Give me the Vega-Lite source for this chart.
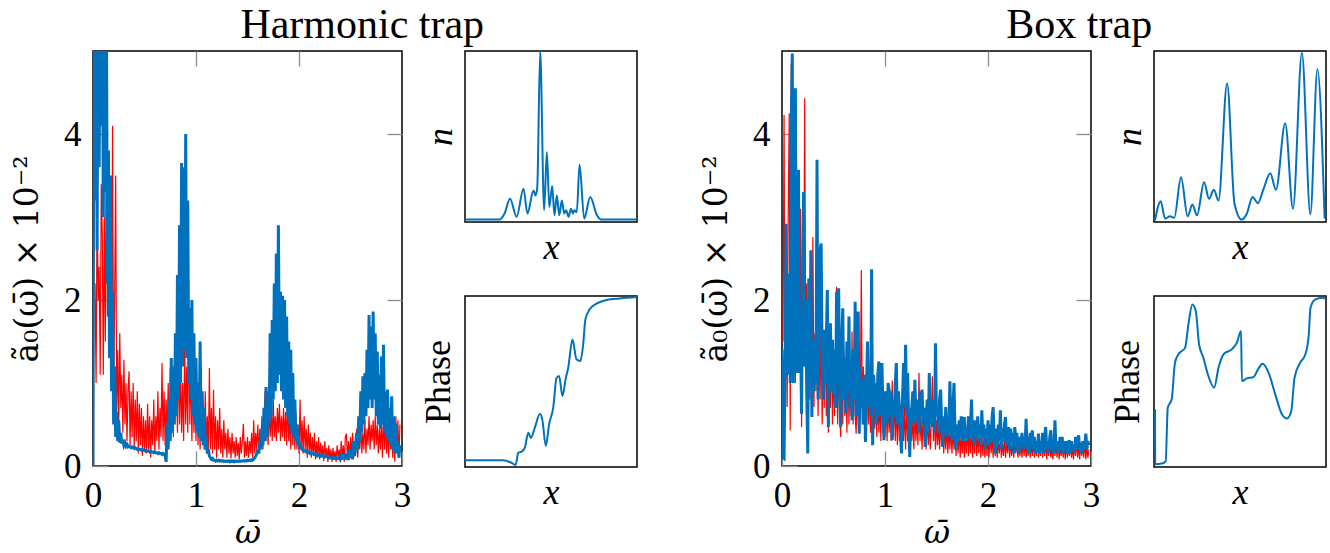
{
"$schema":"https://vega.github.io/schema/vega-lite/v6.json",
"padding":{"left":10,"top":3,"right":3,"bottom":0},
"background":"white",
"config":{
 "font":"Liberation Serif",
 "view":{"stroke":"black","strokeWidth":1.5},
 "axis":{"labelFont":"Liberation Serif","titleFont":"Liberation Serif","labelFontSize":35,"titleFontSize":36,"titleFontWeight":"normal","labelColor":"black","titleColor":"black","domain":false,"grid":false,"tickColor":"#8c8c8c","tickWidth":1.3},
 "title":{"font":"Liberation Serif","fontSize":42,"fontWeight":"normal","color":"black"}
},
"datasets":{
"hb":[{"x":0,"y":0},{"x":0.01,"y":6},{"x":0.02,"y":3.2},{"x":0.03,"y":6},{"x":0.04,"y":2.6},{"x":0.05,"y":6},{"x":0.06,"y":3.6},{"x":0.07,"y":6},{"x":0.08,"y":4.1},{"x":0.09,"y":6},{"x":0.1,"y":3.0},{"x":0.11,"y":6},{"x":0.12,"y":3.3},{"x":0.13,"y":5.6},{"x":0.14,"y":2.2},{"x":0.15,"y":3.8},{"x":0.16,"y":1.3},{"x":0.17,"y":3.5},{"x":0.18,"y":0.9},{"x":0.19,"y":2.1},{"x":0.2,"y":0.5},{"x":0.21,"y":1.2},{"x":0.22,"y":0.35},{"x":0.23,"y":0.65},{"x":0.24,"y":0.3},{"x":0.25,"y":0.55},{"x":0.26,"y":0.28},{"x":0.27,"y":0.4},{"x":0.28,"y":0.27},{"x":0.29,"y":0.32},{"x":0.3,"y":0.25},{"x":0.31,"y":0.28},{"x":0.32,"y":0.24},{"x":0.33,"y":0.26},{"x":0.34,"y":0.23},{"x":0.35,"y":0.24},{"x":0.36,"y":0.23},{"x":0.37,"y":0.22},{"x":0.38,"y":0.23},{"x":0.39,"y":0.22},{"x":0.4,"y":0.21},{"x":0.41,"y":0.22},{"x":0.42,"y":0.21},{"x":0.43,"y":0.2},{"x":0.44,"y":0.21},{"x":0.45,"y":0.2},{"x":0.46,"y":0.2},{"x":0.47,"y":0.19},{"x":0.48,"y":0.2},{"x":0.49,"y":0.19},{"x":0.5,"y":0.19},{"x":0.51,"y":0.18},{"x":0.52,"y":0.19},{"x":0.53,"y":0.18},{"x":0.54,"y":0.18},{"x":0.55,"y":0.17},{"x":0.56,"y":0.18},{"x":0.57,"y":0.17},{"x":0.58,"y":0.17},{"x":0.59,"y":0.16},{"x":0.6,"y":0.17},{"x":0.61,"y":0.16},{"x":0.62,"y":0.16},{"x":0.63,"y":0.15},{"x":0.64,"y":0.16},{"x":0.65,"y":0.15},{"x":0.66,"y":0.15},{"x":0.67,"y":0.14},{"x":0.68,"y":0.15},{"x":0.69,"y":0.14},{"x":0.7,"y":0.12},{"x":0.71,"y":0.05},{"x":0.72,"y":0.5},{"x":0.73,"y":0.2},{"x":0.74,"y":0.8},{"x":0.75,"y":0.3},{"x":0.76,"y":1.3},{"x":0.77,"y":0.4},{"x":0.78,"y":1.2},{"x":0.79,"y":0.5},{"x":0.8,"y":1.6},{"x":0.81,"y":0.6},{"x":0.82,"y":2.3},{"x":0.83,"y":0.8},{"x":0.84,"y":2.9},{"x":0.85,"y":1.0},{"x":0.86,"y":3.65},{"x":0.87,"y":1.2},{"x":0.88,"y":3.6},{"x":0.89,"y":1.4},{"x":0.9,"y":4.0},{"x":0.91,"y":1.3},{"x":0.92,"y":3.2},{"x":0.93,"y":1.0},{"x":0.94,"y":1.9},{"x":0.95,"y":0.8},{"x":0.96,"y":2.0},{"x":0.97,"y":0.6},{"x":0.98,"y":1.6},{"x":0.99,"y":0.5},{"x":1.0,"y":1.3},{"x":1.01,"y":0.4},{"x":1.02,"y":1.0},{"x":1.03,"y":0.35},{"x":1.04,"y":1.5},{"x":1.05,"y":0.3},{"x":1.06,"y":0.9},{"x":1.07,"y":0.25},{"x":1.08,"y":0.7},{"x":1.09,"y":0.2},{"x":1.1,"y":0.35},{"x":1.11,"y":0.15},{"x":1.12,"y":0.2},{"x":1.13,"y":0.12},{"x":1.14,"y":0.1},{"x":1.15,"y":0.08},{"x":1.16,"y":0.09},{"x":1.17,"y":0.07},{"x":1.18,"y":0.07},{"x":1.19,"y":0.06},{"x":1.2,"y":0.07},{"x":1.21,"y":0.06},{"x":1.22,"y":0.07},{"x":1.23,"y":0.06},{"x":1.24,"y":0.065},{"x":1.25,"y":0.06},{"x":1.26,"y":0.065},{"x":1.27,"y":0.055},{"x":1.28,"y":0.06},{"x":1.29,"y":0.055},{"x":1.3,"y":0.06},{"x":1.31,"y":0.055},{"x":1.32,"y":0.06},{"x":1.33,"y":0.05},{"x":1.34,"y":0.06},{"x":1.35,"y":0.055},{"x":1.36,"y":0.06},{"x":1.37,"y":0.05},{"x":1.38,"y":0.06},{"x":1.39,"y":0.055},{"x":1.4,"y":0.06},{"x":1.41,"y":0.055},{"x":1.42,"y":0.06},{"x":1.43,"y":0.055},{"x":1.44,"y":0.06},{"x":1.45,"y":0.06},{"x":1.46,"y":0.065},{"x":1.47,"y":0.06},{"x":1.48,"y":0.065},{"x":1.49,"y":0.06},{"x":1.5,"y":0.07},{"x":1.51,"y":0.065},{"x":1.52,"y":0.07},{"x":1.53,"y":0.065},{"x":1.54,"y":0.075},{"x":1.55,"y":0.07},{"x":1.56,"y":0.08},{"x":1.57,"y":0.1},{"x":1.58,"y":0.12},{"x":1.59,"y":0.15},{"x":1.6,"y":0.2},{"x":1.61,"y":0.15},{"x":1.62,"y":0.3},{"x":1.63,"y":0.2},{"x":1.64,"y":0.45},{"x":1.65,"y":0.25},{"x":1.66,"y":0.7},{"x":1.67,"y":0.3},{"x":1.68,"y":0.95},{"x":1.69,"y":0.35},{"x":1.7,"y":0.9},{"x":1.71,"y":0.5},{"x":1.72,"y":1.6},{"x":1.73,"y":0.6},{"x":1.74,"y":1.76},{"x":1.75,"y":0.8},{"x":1.76,"y":2.2},{"x":1.77,"y":0.9},{"x":1.78,"y":2.56},{"x":1.79,"y":1.0},{"x":1.8,"y":2.9},{"x":1.81,"y":1.1},{"x":1.82,"y":2.1},{"x":1.83,"y":0.9},{"x":1.84,"y":2.05},{"x":1.85,"y":0.8},{"x":1.86,"y":2.0},{"x":1.87,"y":0.7},{"x":1.88,"y":1.8},{"x":1.89,"y":0.6},{"x":1.9,"y":1.5},{"x":1.91,"y":0.5},{"x":1.92,"y":1.4},{"x":1.93,"y":0.4},{"x":1.94,"y":1.12},{"x":1.95,"y":0.35},{"x":1.96,"y":0.8},{"x":1.97,"y":0.3},{"x":1.98,"y":0.5},{"x":1.99,"y":0.25},{"x":2.0,"y":0.3},{"x":2.01,"y":0.22},{"x":2.02,"y":0.23},{"x":2.03,"y":0.2},{"x":2.04,"y":0.19},{"x":2.05,"y":0.18},{"x":2.06,"y":0.19},{"x":2.07,"y":0.17},{"x":2.08,"y":0.18},{"x":2.09,"y":0.16},{"x":2.1,"y":0.17},{"x":2.11,"y":0.15},{"x":2.12,"y":0.16},{"x":2.13,"y":0.15},{"x":2.14,"y":0.15},{"x":2.15,"y":0.14},{"x":2.16,"y":0.15},{"x":2.17,"y":0.13},{"x":2.18,"y":0.14},{"x":2.19,"y":0.13},{"x":2.2,"y":0.13},{"x":2.21,"y":0.12},{"x":2.22,"y":0.13},{"x":2.23,"y":0.12},{"x":2.24,"y":0.12},{"x":2.25,"y":0.11},{"x":2.26,"y":0.12},{"x":2.27,"y":0.11},{"x":2.28,"y":0.11},{"x":2.29,"y":0.1},{"x":2.3,"y":0.11},{"x":2.31,"y":0.1},{"x":2.32,"y":0.1},{"x":2.33,"y":0.09},{"x":2.34,"y":0.1},{"x":2.35,"y":0.09},{"x":2.36,"y":0.1},{"x":2.37,"y":0.09},{"x":2.38,"y":0.09},{"x":2.39,"y":0.1},{"x":2.4,"y":0.08},{"x":2.41,"y":0.12},{"x":2.42,"y":0.08},{"x":2.43,"y":0.14},{"x":2.44,"y":0.08},{"x":2.45,"y":0.15},{"x":2.46,"y":0.08},{"x":2.47,"y":0.12},{"x":2.48,"y":0.07},{"x":2.49,"y":0.2},{"x":2.5,"y":0.1},{"x":2.51,"y":0.15},{"x":2.52,"y":0.08},{"x":2.53,"y":0.3},{"x":2.54,"y":0.12},{"x":2.55,"y":0.25},{"x":2.56,"y":0.4},{"x":2.57,"y":0.2},{"x":2.58,"y":0.6},{"x":2.59,"y":0.3},{"x":2.6,"y":0.9},{"x":2.61,"y":0.4},{"x":2.62,"y":1.08},{"x":2.63,"y":0.5},{"x":2.64,"y":1.12},{"x":2.65,"y":0.6},{"x":2.66,"y":1.4},{"x":2.67,"y":0.7},{"x":2.68,"y":1.82},{"x":2.69,"y":0.8},{"x":2.7,"y":1.68},{"x":2.71,"y":0.7},{"x":2.72,"y":1.86},{"x":2.73,"y":0.8},{"x":2.74,"y":1.6},{"x":2.75,"y":0.6},{"x":2.76,"y":1.38},{"x":2.77,"y":0.5},{"x":2.78,"y":1.1},{"x":2.79,"y":0.45},{"x":2.8,"y":1.32},{"x":2.81,"y":0.5},{"x":2.82,"y":1.46},{"x":2.83,"y":0.4},{"x":2.84,"y":0.9},{"x":2.85,"y":0.35},{"x":2.86,"y":0.92},{"x":2.87,"y":0.3},{"x":2.88,"y":0.7},{"x":2.89,"y":0.25},{"x":2.9,"y":0.84},{"x":2.91,"y":0.2},{"x":2.92,"y":0.6},{"x":2.93,"y":0.15},{"x":2.94,"y":0.51},{"x":2.95,"y":0.15},{"x":2.96,"y":0.3},{"x":2.97,"y":0.1},{"x":2.98,"y":0.25}],
"hr":[{"x":0.02,"y":2.2},{"x":0.03,"y":1.0},{"x":0.04,"y":3.2},{"x":0.05,"y":2.0},{"x":0.06,"y":2.4},{"x":0.07,"y":1.1},{"x":0.08,"y":3.4},{"x":0.09,"y":2.8},{"x":0.1,"y":1.1},{"x":0.11,"y":3.0},{"x":0.12,"y":1.5},{"x":0.13,"y":4.4},{"x":0.14,"y":1.8},{"x":0.15,"y":3.0},{"x":0.16,"y":1.4},{"x":0.17,"y":2.5},{"x":0.18,"y":1.0},{"x":0.19,"y":4.1},{"x":0.2,"y":0.9},{"x":0.21,"y":2.0},{"x":0.22,"y":3.5},{"x":0.23,"y":0.6},{"x":0.24,"y":1.4},{"x":0.25,"y":0.5},{"x":0.26,"y":1.6},{"x":0.27,"y":0.7},{"x":0.28,"y":1.1},{"x":0.29,"y":0.4},{"x":0.3,"y":1.28},{"x":0.31,"y":0.5},{"x":0.32,"y":1.0},{"x":0.33,"y":0.3},{"x":0.34,"y":0.9},{"x":0.35,"y":1.14},{"x":0.36,"y":0.25},{"x":0.37,"y":0.9},{"x":0.38,"y":0.35},{"x":0.39,"y":1.0},{"x":0.4,"y":0.2},{"x":0.41,"y":0.8},{"x":0.42,"y":0.3},{"x":0.43,"y":0.9},{"x":0.44,"y":0.15},{"x":0.45,"y":0.75},{"x":0.46,"y":0.25},{"x":0.47,"y":0.7},{"x":0.48,"y":0.12},{"x":0.49,"y":0.6},{"x":0.5,"y":0.2},{"x":0.51,"y":0.55},{"x":0.52,"y":0.15},{"x":0.53,"y":0.75},{"x":0.54,"y":0.2},{"x":0.55,"y":0.6},{"x":0.56,"y":0.1},{"x":0.57,"y":0.55},{"x":0.58,"y":0.25},{"x":0.59,"y":0.8},{"x":0.6,"y":0.15},{"x":0.61,"y":0.6},{"x":0.62,"y":0.3},{"x":0.63,"y":0.9},{"x":0.64,"y":0.2},{"x":0.65,"y":0.7},{"x":0.66,"y":0.35},{"x":0.67,"y":1.24},{"x":0.68,"y":0.3},{"x":0.69,"y":0.9},{"x":0.7,"y":0.25},{"x":0.71,"y":0.8},{"x":0.72,"y":0.4},{"x":0.73,"y":1.0},{"x":0.74,"y":0.3},{"x":0.75,"y":1.18},{"x":0.76,"y":0.5},{"x":0.77,"y":1.0},{"x":0.78,"y":0.35},{"x":0.79,"y":1.3},{"x":0.8,"y":0.6},{"x":0.81,"y":1.1},{"x":0.82,"y":0.4},{"x":0.83,"y":1.4},{"x":0.84,"y":0.5},{"x":0.85,"y":1.2},{"x":0.86,"y":0.4},{"x":0.87,"y":1.0},{"x":0.88,"y":0.3},{"x":0.89,"y":1.5},{"x":0.9,"y":0.5},{"x":0.91,"y":1.2},{"x":0.92,"y":0.4},{"x":0.93,"y":1.88},{"x":0.94,"y":0.5},{"x":0.95,"y":1.3},{"x":0.96,"y":0.3},{"x":0.97,"y":1.1},{"x":0.98,"y":0.4},{"x":0.99,"y":0.9},{"x":1.0,"y":0.3},{"x":1.01,"y":1.0},{"x":1.02,"y":0.25},{"x":1.03,"y":0.8},{"x":1.04,"y":0.2},{"x":1.05,"y":1.2},{"x":1.06,"y":0.3},{"x":1.07,"y":0.7},{"x":1.08,"y":0.2},{"x":1.09,"y":0.9},{"x":1.1,"y":0.25},{"x":1.11,"y":0.6},{"x":1.12,"y":0.15},{"x":1.13,"y":1.18},{"x":1.14,"y":0.2},{"x":1.15,"y":0.7},{"x":1.16,"y":0.15},{"x":1.17,"y":0.92},{"x":1.18,"y":0.2},{"x":1.19,"y":0.6},{"x":1.2,"y":0.1},{"x":1.21,"y":0.55},{"x":1.22,"y":0.2},{"x":1.23,"y":0.7},{"x":1.24,"y":0.15},{"x":1.25,"y":0.45},{"x":1.26,"y":0.1},{"x":1.27,"y":0.55},{"x":1.28,"y":0.2},{"x":1.29,"y":0.4},{"x":1.3,"y":0.1},{"x":1.31,"y":0.45},{"x":1.32,"y":0.15},{"x":1.33,"y":0.35},{"x":1.34,"y":0.09},{"x":1.35,"y":0.4},{"x":1.36,"y":0.15},{"x":1.37,"y":0.3},{"x":1.38,"y":0.1},{"x":1.39,"y":0.35},{"x":1.4,"y":0.12},{"x":1.41,"y":0.28},{"x":1.42,"y":0.08},{"x":1.43,"y":0.35},{"x":1.44,"y":0.15},{"x":1.45,"y":0.3},{"x":1.46,"y":0.51},{"x":1.47,"y":0.1},{"x":1.48,"y":0.3},{"x":1.49,"y":0.12},{"x":1.5,"y":0.35},{"x":1.51,"y":0.1},{"x":1.52,"y":0.3},{"x":1.53,"y":0.15},{"x":1.54,"y":0.4},{"x":1.55,"y":0.1},{"x":1.56,"y":0.55},{"x":1.57,"y":0.15},{"x":1.58,"y":0.4},{"x":1.59,"y":0.2},{"x":1.6,"y":0.5},{"x":1.61,"y":0.15},{"x":1.62,"y":0.45},{"x":1.63,"y":0.25},{"x":1.64,"y":0.6},{"x":1.65,"y":0.2},{"x":1.66,"y":0.5},{"x":1.67,"y":0.9},{"x":1.68,"y":0.3},{"x":1.69,"y":0.6},{"x":1.7,"y":0.25},{"x":1.71,"y":0.7},{"x":1.72,"y":0.35},{"x":1.73,"y":0.65},{"x":1.74,"y":0.3},{"x":1.75,"y":0.8},{"x":1.76,"y":0.35},{"x":1.77,"y":0.6},{"x":1.78,"y":0.3},{"x":1.79,"y":0.7},{"x":1.8,"y":0.4},{"x":1.81,"y":0.75},{"x":1.82,"y":0.3},{"x":1.83,"y":0.6},{"x":1.84,"y":0.35},{"x":1.85,"y":0.7},{"x":1.86,"y":0.3},{"x":1.87,"y":0.65},{"x":1.88,"y":0.25},{"x":1.89,"y":0.8},{"x":1.9,"y":0.3},{"x":1.91,"y":0.6},{"x":1.92,"y":0.2},{"x":1.93,"y":0.7},{"x":1.94,"y":0.25},{"x":1.95,"y":0.55},{"x":1.96,"y":0.2},{"x":1.97,"y":0.65},{"x":1.98,"y":0.2},{"x":1.99,"y":0.5},{"x":2.0,"y":0.15},{"x":2.01,"y":0.8},{"x":2.02,"y":0.2},{"x":2.03,"y":0.55},{"x":2.04,"y":0.15},{"x":2.05,"y":0.6},{"x":2.06,"y":0.2},{"x":2.07,"y":0.45},{"x":2.08,"y":0.1},{"x":2.09,"y":0.5},{"x":2.1,"y":0.15},{"x":2.11,"y":0.4},{"x":2.12,"y":0.1},{"x":2.13,"y":0.35},{"x":2.14,"y":0.12},{"x":2.15,"y":0.4},{"x":2.16,"y":0.08},{"x":2.17,"y":0.3},{"x":2.18,"y":0.1},{"x":2.19,"y":0.35},{"x":2.2,"y":0.08},{"x":2.21,"y":0.28},{"x":2.22,"y":0.1},{"x":2.23,"y":0.25},{"x":2.24,"y":0.06},{"x":2.25,"y":0.3},{"x":2.26,"y":0.1},{"x":2.27,"y":0.22},{"x":2.28,"y":0.05},{"x":2.29,"y":0.25},{"x":2.3,"y":0.08},{"x":2.31,"y":0.2},{"x":2.32,"y":0.05},{"x":2.33,"y":0.22},{"x":2.34,"y":0.08},{"x":2.35,"y":0.18},{"x":2.36,"y":0.05},{"x":2.37,"y":0.25},{"x":2.38,"y":0.1},{"x":2.39,"y":0.2},{"x":2.4,"y":0.06},{"x":2.41,"y":0.3},{"x":2.42,"y":0.1},{"x":2.43,"y":0.25},{"x":2.44,"y":0.05},{"x":2.45,"y":0.35},{"x":2.46,"y":0.39},{"x":2.47,"y":0.1},{"x":2.48,"y":0.3},{"x":2.49,"y":0.08},{"x":2.5,"y":0.35},{"x":2.51,"y":0.12},{"x":2.52,"y":0.4},{"x":2.53,"y":0.1},{"x":2.54,"y":0.3},{"x":2.55,"y":0.15},{"x":2.56,"y":0.45},{"x":2.57,"y":0.1},{"x":2.58,"y":0.35},{"x":2.59,"y":0.2},{"x":2.6,"y":0.5},{"x":2.61,"y":0.15},{"x":2.62,"y":0.4},{"x":2.63,"y":0.2},{"x":2.64,"y":0.55},{"x":2.65,"y":0.15},{"x":2.66,"y":0.45},{"x":2.67,"y":0.25},{"x":2.68,"y":0.6},{"x":2.69,"y":0.2},{"x":2.7,"y":0.5},{"x":2.71,"y":0.3},{"x":2.72,"y":0.55},{"x":2.73,"y":0.2},{"x":2.74,"y":0.6},{"x":2.75,"y":0.25},{"x":2.76,"y":0.5},{"x":2.77,"y":0.15},{"x":2.78,"y":0.45},{"x":2.79,"y":0.2},{"x":2.8,"y":0.55},{"x":2.81,"y":0.1},{"x":2.82,"y":0.6},{"x":2.83,"y":0.2},{"x":2.84,"y":0.5},{"x":2.85,"y":0.15},{"x":2.86,"y":0.4},{"x":2.87,"y":0.1},{"x":2.88,"y":0.55},{"x":2.89,"y":0.2},{"x":2.9,"y":0.45},{"x":2.91,"y":0.1},{"x":2.92,"y":0.5},{"x":2.93,"y":0.05},{"x":2.94,"y":0.6},{"x":2.95,"y":0.15},{"x":2.96,"y":0.55},{"x":2.97,"y":0.1},{"x":2.98,"y":0.5}],
"bb":[{"x":0,"y":1.4},{"x":0.01,"y":0.1},{"x":0.02,"y":0.09},{"x":0.03,"y":1.2},{"x":0.04,"y":2.92},{"x":0.05,"y":1.1},{"x":0.06,"y":1.8},{"x":0.07,"y":2.32},{"x":0.08,"y":1.0},{"x":0.09,"y":4.13},{"x":0.1,"y":4.97},{"x":0.11,"y":1.0},{"x":0.12,"y":3.0},{"x":0.13,"y":4.55},{"x":0.14,"y":1.12},{"x":0.15,"y":2.6},{"x":0.16,"y":3.57},{"x":0.17,"y":1.12},{"x":0.18,"y":1.6},{"x":0.19,"y":0.63},{"x":0.2,"y":2.4},{"x":0.21,"y":3.3},{"x":0.22,"y":1.2},{"x":0.23,"y":2.0},{"x":0.24,"y":0.9},{"x":0.25,"y":0.15},{"x":0.26,"y":2.26},{"x":0.27,"y":1.1},{"x":0.28,"y":2.6},{"x":0.29,"y":0.59},{"x":0.3,"y":1.5},{"x":0.31,"y":0.9},{"x":0.32,"y":1.52},{"x":0.33,"y":1.0},{"x":0.34,"y":3.69},{"x":0.35,"y":0.8},{"x":0.36,"y":1.9},{"x":0.37,"y":2.6},{"x":0.38,"y":2.68},{"x":0.39,"y":1.2},{"x":0.4,"y":0.8},{"x":0.41,"y":1.64},{"x":0.42,"y":1.0},{"x":0.43,"y":1.5},{"x":0.44,"y":2.12},{"x":0.45,"y":0.47},{"x":0.46,"y":1.4},{"x":0.47,"y":1.72},{"x":0.48,"y":0.9},{"x":0.49,"y":1.52},{"x":0.5,"y":0.88},{"x":0.51,"y":1.4},{"x":0.52,"y":0.7},{"x":0.53,"y":2.1},{"x":0.54,"y":1.0},{"x":0.55,"y":2.14},{"x":0.56,"y":0.9},{"x":0.57,"y":0.47},{"x":0.58,"y":1.5},{"x":0.59,"y":1.9},{"x":0.6,"y":0.8},{"x":0.61,"y":1.3},{"x":0.62,"y":0.63},{"x":0.63,"y":1.5},{"x":0.64,"y":0.9},{"x":0.65,"y":1.8},{"x":0.66,"y":0.7},{"x":0.67,"y":1.2},{"x":0.68,"y":0.55},{"x":0.69,"y":1.4},{"x":0.7,"y":0.8},{"x":0.71,"y":1.98},{"x":0.72,"y":0.6},{"x":0.73,"y":1.3},{"x":0.74,"y":1.86},{"x":0.75,"y":0.39},{"x":0.76,"y":1.2},{"x":0.77,"y":0.7},{"x":0.78,"y":1.04},{"x":0.79,"y":0.5},{"x":0.8,"y":1.1},{"x":0.81,"y":0.29},{"x":0.82,"y":0.9},{"x":0.83,"y":1.5},{"x":0.84,"y":0.71},{"x":0.85,"y":1.2},{"x":0.86,"y":0.6},{"x":0.87,"y":2.37},{"x":0.88,"y":0.25},{"x":0.89,"y":1.1},{"x":0.9,"y":0.8},{"x":0.91,"y":1.0},{"x":0.92,"y":0.5},{"x":0.93,"y":1.1},{"x":0.94,"y":1.26},{"x":0.95,"y":0.6},{"x":0.96,"y":1.0},{"x":0.97,"y":1.24},{"x":0.98,"y":0.7},{"x":0.99,"y":0.31},{"x":1.0,"y":0.9},{"x":1.01,"y":0.8},{"x":1.02,"y":0.5},{"x":1.03,"y":1.0},{"x":1.04,"y":0.92},{"x":1.05,"y":0.6},{"x":1.06,"y":0.9},{"x":1.07,"y":0.31},{"x":1.08,"y":0.8},{"x":1.09,"y":0.6},{"x":1.1,"y":1.0},{"x":1.11,"y":1.24},{"x":1.12,"y":0.5},{"x":1.13,"y":0.9},{"x":1.14,"y":0.71},{"x":1.15,"y":0.4},{"x":1.16,"y":0.15},{"x":1.17,"y":0.8},{"x":1.18,"y":1.24},{"x":1.19,"y":0.7},{"x":1.2,"y":1.46},{"x":1.21,"y":0.6},{"x":1.22,"y":1.12},{"x":1.23,"y":0.5},{"x":1.24,"y":0.11},{"x":1.25,"y":0.6},{"x":1.26,"y":0.71},{"x":1.27,"y":0.9},{"x":1.28,"y":0.5},{"x":1.29,"y":1.04},{"x":1.3,"y":0.6},{"x":1.31,"y":0.55},{"x":1.32,"y":0.8},{"x":1.33,"y":0.4},{"x":1.34,"y":0.9},{"x":1.35,"y":0.6},{"x":1.36,"y":0.92},{"x":1.37,"y":0.5},{"x":1.38,"y":0.7},{"x":1.39,"y":0.23},{"x":1.4,"y":0.6},{"x":1.41,"y":0.8},{"x":1.42,"y":0.4},{"x":1.43,"y":1.12},{"x":1.44,"y":0.5},{"x":1.45,"y":0.7},{"x":1.46,"y":0.47},{"x":1.47,"y":0.8},{"x":1.48,"y":0.4},{"x":1.49,"y":1.48},{"x":1.5,"y":0.6},{"x":1.51,"y":0.71},{"x":1.52,"y":0.4},{"x":1.53,"y":0.8},{"x":1.54,"y":0.92},{"x":1.55,"y":0.5},{"x":1.56,"y":0.23},{"x":1.57,"y":0.6},{"x":1.58,"y":0.4},{"x":1.59,"y":0.71},{"x":1.6,"y":0.35},{"x":1.61,"y":0.6},{"x":1.62,"y":0.4},{"x":1.63,"y":1.02},{"x":1.64,"y":0.5},{"x":1.65,"y":0.31},{"x":1.66,"y":0.7},{"x":1.67,"y":1.0},{"x":1.68,"y":0.4},{"x":1.69,"y":0.19},{"x":1.7,"y":0.5},{"x":1.71,"y":0.3},{"x":1.72,"y":0.55},{"x":1.73,"y":0.35},{"x":1.74,"y":0.6},{"x":1.75,"y":0.3},{"x":1.76,"y":0.5},{"x":1.77,"y":0.59},{"x":1.78,"y":0.3},{"x":1.79,"y":0.45},{"x":1.8,"y":0.31},{"x":1.81,"y":0.6},{"x":1.82,"y":0.35},{"x":1.83,"y":0.5},{"x":1.84,"y":0.8},{"x":1.85,"y":0.3},{"x":1.86,"y":0.55},{"x":1.87,"y":0.25},{"x":1.88,"y":0.55},{"x":1.89,"y":0.35},{"x":1.9,"y":0.6},{"x":1.91,"y":0.3},{"x":1.92,"y":0.5},{"x":1.93,"y":0.25},{"x":1.94,"y":0.67},{"x":1.95,"y":0.35},{"x":1.96,"y":0.5},{"x":1.97,"y":0.2},{"x":1.98,"y":0.45},{"x":1.99,"y":0.31},{"x":2.0,"y":0.55},{"x":2.01,"y":0.25},{"x":2.02,"y":0.5},{"x":2.03,"y":0.3},{"x":2.04,"y":0.6},{"x":2.05,"y":0.71},{"x":2.06,"y":0.3},{"x":2.07,"y":0.15},{"x":2.08,"y":0.45},{"x":2.09,"y":0.25},{"x":2.1,"y":0.5},{"x":2.11,"y":0.3},{"x":2.12,"y":0.67},{"x":2.13,"y":0.2},{"x":2.14,"y":0.45},{"x":2.15,"y":0.3},{"x":2.16,"y":0.5},{"x":2.17,"y":0.59},{"x":2.18,"y":0.25},{"x":2.19,"y":0.4},{"x":2.2,"y":0.47},{"x":2.21,"y":0.2},{"x":2.22,"y":0.45},{"x":2.23,"y":0.3},{"x":2.24,"y":0.4},{"x":2.25,"y":0.15},{"x":2.26,"y":0.47},{"x":2.27,"y":0.3},{"x":2.28,"y":0.4},{"x":2.29,"y":0.2},{"x":2.3,"y":0.15},{"x":2.31,"y":0.35},{"x":2.32,"y":0.25},{"x":2.33,"y":0.4},{"x":2.34,"y":0.2},{"x":2.35,"y":0.35},{"x":2.36,"y":0.25},{"x":2.37,"y":0.57},{"x":2.38,"y":0.2},{"x":2.39,"y":0.35},{"x":2.4,"y":0.15},{"x":2.41,"y":0.4},{"x":2.42,"y":0.25},{"x":2.43,"y":0.43},{"x":2.44,"y":0.2},{"x":2.45,"y":0.35},{"x":2.46,"y":0.15},{"x":2.47,"y":0.3},{"x":2.48,"y":0.2},{"x":2.49,"y":0.39},{"x":2.5,"y":0.15},{"x":2.51,"y":0.3},{"x":2.52,"y":0.2},{"x":2.53,"y":0.4},{"x":2.54,"y":0.15},{"x":2.55,"y":0.35},{"x":2.56,"y":0.47},{"x":2.57,"y":0.2},{"x":2.58,"y":0.3},{"x":2.59,"y":0.15},{"x":2.6,"y":0.35},{"x":2.61,"y":0.43},{"x":2.62,"y":0.2},{"x":2.63,"y":0.3},{"x":2.64,"y":0.15},{"x":2.65,"y":0.55},{"x":2.66,"y":0.2},{"x":2.67,"y":0.3},{"x":2.68,"y":0.15},{"x":2.69,"y":0.19},{"x":2.7,"y":0.35},{"x":2.71,"y":0.2},{"x":2.72,"y":0.35},{"x":2.73,"y":0.15},{"x":2.74,"y":0.3},{"x":2.75,"y":0.2},{"x":2.76,"y":0.3},{"x":2.77,"y":0.15},{"x":2.78,"y":0.28},{"x":2.79,"y":0.31},{"x":2.8,"y":0.15},{"x":2.81,"y":0.3},{"x":2.82,"y":0.2},{"x":2.83,"y":0.25},{"x":2.84,"y":0.15},{"x":2.85,"y":0.35},{"x":2.86,"y":0.2},{"x":2.87,"y":0.3},{"x":2.88,"y":0.37},{"x":2.89,"y":0.2},{"x":2.9,"y":0.25},{"x":2.91,"y":0.15},{"x":2.92,"y":0.3},{"x":2.93,"y":0.2},{"x":2.94,"y":0.25},{"x":2.95,"y":0.39},{"x":2.96,"y":0.2},{"x":2.97,"y":0.3},{"x":2.98,"y":0.25}],
"br":[{"x":0.01,"y":1.5},{"x":0.02,"y":4.23},{"x":0.03,"y":0.5},{"x":0.04,"y":2.0},{"x":0.05,"y":0.71},{"x":0.06,"y":3.0},{"x":0.07,"y":4.25},{"x":0.08,"y":0.43},{"x":0.09,"y":4.85},{"x":0.1,"y":2.5},{"x":0.11,"y":1.27},{"x":0.12,"y":2.2},{"x":0.13,"y":1.0},{"x":0.14,"y":3.0},{"x":0.15,"y":1.5},{"x":0.16,"y":2.4},{"x":0.17,"y":1.2},{"x":0.18,"y":3.1},{"x":0.19,"y":0.47},{"x":0.2,"y":2.0},{"x":0.21,"y":1.2},{"x":0.22,"y":4.43},{"x":0.23,"y":1.52},{"x":0.24,"y":2.2},{"x":0.25,"y":0.9},{"x":0.26,"y":1.8},{"x":0.27,"y":0.8},{"x":0.28,"y":2.0},{"x":0.29,"y":1.1},{"x":0.3,"y":2.76},{"x":0.31,"y":0.71},{"x":0.32,"y":1.6},{"x":0.33,"y":0.9},{"x":0.34,"y":1.8},{"x":0.35,"y":0.6},{"x":0.36,"y":1.5},{"x":0.37,"y":0.8},{"x":0.38,"y":1.9},{"x":0.39,"y":0.5},{"x":0.4,"y":1.4},{"x":0.41,"y":0.7},{"x":0.42,"y":1.6},{"x":0.43,"y":0.6},{"x":0.44,"y":1.5},{"x":0.45,"y":0.4},{"x":0.46,"y":1.3},{"x":0.47,"y":0.7},{"x":0.48,"y":1.6},{"x":0.49,"y":0.5},{"x":0.5,"y":1.2},{"x":0.51,"y":0.6},{"x":0.52,"y":1.5},{"x":0.53,"y":2.16},{"x":0.54,"y":0.5},{"x":0.55,"y":1.4},{"x":0.56,"y":0.6},{"x":0.57,"y":0.35},{"x":0.58,"y":1.3},{"x":0.59,"y":0.5},{"x":0.6,"y":1.4},{"x":0.61,"y":0.6},{"x":0.62,"y":1.2},{"x":0.63,"y":0.4},{"x":0.64,"y":1.3},{"x":0.65,"y":0.5},{"x":0.66,"y":1.1},{"x":0.67,"y":0.6},{"x":0.68,"y":1.62},{"x":0.69,"y":0.5},{"x":0.7,"y":1.2},{"x":0.71,"y":0.6},{"x":0.72,"y":0.39},{"x":0.73,"y":1.1},{"x":0.74,"y":0.5},{"x":0.75,"y":1.3},{"x":0.76,"y":0.6},{"x":0.77,"y":2.36},{"x":0.78,"y":0.5},{"x":0.79,"y":1.2},{"x":0.8,"y":0.71},{"x":0.81,"y":1.0},{"x":0.82,"y":0.4},{"x":0.83,"y":1.1},{"x":0.84,"y":0.5},{"x":0.85,"y":0.9},{"x":0.86,"y":0.4},{"x":0.87,"y":1.2},{"x":0.88,"y":0.3},{"x":0.89,"y":1.0},{"x":0.9,"y":0.45},{"x":0.91,"y":0.9},{"x":0.92,"y":0.35},{"x":0.93,"y":1.1},{"x":0.94,"y":0.4},{"x":0.95,"y":0.8},{"x":0.96,"y":0.3},{"x":0.97,"y":1.0},{"x":0.98,"y":0.4},{"x":0.99,"y":0.85},{"x":1.0,"y":0.35},{"x":1.01,"y":0.9},{"x":1.02,"y":0.3},{"x":1.03,"y":0.8},{"x":1.04,"y":0.4},{"x":1.05,"y":0.7},{"x":1.06,"y":0.3},{"x":1.07,"y":1.03},{"x":1.08,"y":0.35},{"x":1.09,"y":0.8},{"x":1.1,"y":0.3},{"x":1.11,"y":0.75},{"x":1.12,"y":0.25},{"x":1.13,"y":0.8},{"x":1.14,"y":0.3},{"x":1.15,"y":0.7},{"x":1.16,"y":0.25},{"x":1.17,"y":0.85},{"x":1.18,"y":0.3},{"x":1.19,"y":0.7},{"x":1.2,"y":0.2},{"x":1.21,"y":0.75},{"x":1.22,"y":0.3},{"x":1.23,"y":0.65},{"x":1.24,"y":0.25},{"x":1.25,"y":0.7},{"x":1.26,"y":0.3},{"x":1.27,"y":0.6},{"x":1.28,"y":0.2},{"x":1.29,"y":0.7},{"x":1.3,"y":0.3},{"x":1.31,"y":0.6},{"x":1.32,"y":0.25},{"x":1.33,"y":1.12},{"x":1.34,"y":0.3},{"x":1.35,"y":0.6},{"x":1.36,"y":0.2},{"x":1.37,"y":0.65},{"x":1.38,"y":0.3},{"x":1.39,"y":0.55},{"x":1.4,"y":0.2},{"x":1.41,"y":0.6},{"x":1.42,"y":0.25},{"x":1.43,"y":0.55},{"x":1.44,"y":0.2},{"x":1.45,"y":0.6},{"x":1.46,"y":1.08},{"x":1.47,"y":0.3},{"x":1.48,"y":0.6},{"x":1.49,"y":0.2},{"x":1.5,"y":0.55},{"x":1.51,"y":0.25},{"x":1.52,"y":0.5},{"x":1.53,"y":0.2},{"x":1.54,"y":0.55},{"x":1.55,"y":0.25},{"x":1.56,"y":0.5},{"x":1.57,"y":0.15},{"x":1.58,"y":0.45},{"x":1.59,"y":0.2},{"x":1.6,"y":0.5},{"x":1.61,"y":0.15},{"x":1.62,"y":0.45},{"x":1.63,"y":0.2},{"x":1.64,"y":0.5},{"x":1.65,"y":0.15},{"x":1.66,"y":0.45},{"x":1.67,"y":0.2},{"x":1.68,"y":0.4},{"x":1.69,"y":0.12},{"x":1.7,"y":0.5},{"x":1.71,"y":0.15},{"x":1.72,"y":0.45},{"x":1.73,"y":0.1},{"x":1.74,"y":0.4},{"x":1.75,"y":0.15},{"x":1.76,"y":0.45},{"x":1.77,"y":0.1},{"x":1.78,"y":0.4},{"x":1.79,"y":0.15},{"x":1.8,"y":0.5},{"x":1.81,"y":0.12},{"x":1.82,"y":0.4},{"x":1.83,"y":0.15},{"x":1.84,"y":0.45},{"x":1.85,"y":0.1},{"x":1.86,"y":0.4},{"x":1.87,"y":0.15},{"x":1.88,"y":0.5},{"x":1.89,"y":0.12},{"x":1.9,"y":0.4},{"x":1.91,"y":0.15},{"x":1.92,"y":0.45},{"x":1.93,"y":0.1},{"x":1.94,"y":0.4},{"x":1.95,"y":0.12},{"x":1.96,"y":0.35},{"x":1.97,"y":0.1},{"x":1.98,"y":0.4},{"x":1.99,"y":0.12},{"x":2.0,"y":0.35},{"x":2.01,"y":0.1},{"x":2.02,"y":0.4},{"x":2.03,"y":0.15},{"x":2.04,"y":0.35},{"x":2.05,"y":0.1},{"x":2.06,"y":0.4},{"x":2.07,"y":0.12},{"x":2.08,"y":0.35},{"x":2.09,"y":0.1},{"x":2.1,"y":0.3},{"x":2.11,"y":0.15},{"x":2.12,"y":0.35},{"x":2.13,"y":0.1},{"x":2.14,"y":0.3},{"x":2.15,"y":0.12},{"x":2.16,"y":0.35},{"x":2.17,"y":0.1},{"x":2.18,"y":0.3},{"x":2.19,"y":0.15},{"x":2.2,"y":0.35},{"x":2.21,"y":0.1},{"x":2.22,"y":0.3},{"x":2.23,"y":0.12},{"x":2.24,"y":0.3},{"x":2.25,"y":0.1},{"x":2.26,"y":0.35},{"x":2.27,"y":0.15},{"x":2.28,"y":0.3},{"x":2.29,"y":0.1},{"x":2.3,"y":0.25},{"x":2.31,"y":0.12},{"x":2.32,"y":0.3},{"x":2.33,"y":0.1},{"x":2.34,"y":0.28},{"x":2.35,"y":0.12},{"x":2.36,"y":0.3},{"x":2.37,"y":0.1},{"x":2.38,"y":0.25},{"x":2.39,"y":0.12},{"x":2.4,"y":0.3},{"x":2.41,"y":0.1},{"x":2.42,"y":0.25},{"x":2.43,"y":0.12},{"x":2.44,"y":0.3},{"x":2.45,"y":0.1},{"x":2.46,"y":0.25},{"x":2.47,"y":0.12},{"x":2.48,"y":0.28},{"x":2.49,"y":0.1},{"x":2.5,"y":0.25},{"x":2.51,"y":0.12},{"x":2.52,"y":0.3},{"x":2.53,"y":0.1},{"x":2.54,"y":0.25},{"x":2.55,"y":0.12},{"x":2.56,"y":0.3},{"x":2.57,"y":0.08},{"x":2.58,"y":0.25},{"x":2.59,"y":0.12},{"x":2.6,"y":0.3},{"x":2.61,"y":0.1},{"x":2.62,"y":0.22},{"x":2.63,"y":0.08},{"x":2.64,"y":0.28},{"x":2.65,"y":0.12},{"x":2.66,"y":0.25},{"x":2.67,"y":0.1},{"x":2.68,"y":0.3},{"x":2.69,"y":0.08},{"x":2.7,"y":0.22},{"x":2.71,"y":0.12},{"x":2.72,"y":0.28},{"x":2.73,"y":0.1},{"x":2.74,"y":0.25},{"x":2.75,"y":0.08},{"x":2.76,"y":0.3},{"x":2.77,"y":0.1},{"x":2.78,"y":0.25},{"x":2.79,"y":0.12},{"x":2.8,"y":0.28},{"x":2.81,"y":0.1},{"x":2.82,"y":0.22},{"x":2.83,"y":0.08},{"x":2.84,"y":0.25},{"x":2.85,"y":0.12},{"x":2.86,"y":0.3},{"x":2.87,"y":0.1},{"x":2.88,"y":0.25},{"x":2.89,"y":0.08},{"x":2.9,"y":0.28},{"x":2.91,"y":0.12},{"x":2.92,"y":0.25},{"x":2.93,"y":0.1},{"x":2.94,"y":0.3},{"x":2.95,"y":0.08},{"x":2.96,"y":0.25},{"x":2.97,"y":0.1},{"x":2.98,"y":0.2}],
"hn":[{"x":0,"y":0.014},{"x":0.2,"y":0.014},{"x":0.23,"y":0.05},{"x":0.262,"y":0.136},{"x":0.3,"y":0.03},{"x":0.34,"y":0.194},{"x":0.363,"y":0.05},{"x":0.398,"y":0.184},{"x":0.41,"y":0.155},{"x":0.42,"y":0.2},{"x":0.437,"y":1.0},{"x":0.46,"y":0.07},{"x":0.476,"y":0.41},{"x":0.49,"y":0.087},{"x":0.507,"y":0.21},{"x":0.52,"y":0.04},{"x":0.534,"y":0.155},{"x":0.548,"y":0.04},{"x":0.563,"y":0.126},{"x":0.577,"y":0.05},{"x":0.588,"y":0.068},{"x":0.602,"y":0.03},{"x":0.616,"y":0.078},{"x":0.627,"y":0.05},{"x":0.636,"y":0.068},{"x":0.65,"y":0.058},{"x":0.666,"y":0.336},{"x":0.693,"y":0.02},{"x":0.728,"y":0.146},{"x":0.767,"y":0.04},{"x":0.796,"y":0.014},{"x":1,"y":0.014}],
"hp":[{"x":0,"y":0.039},{"x":0.22,"y":0.039},{"x":0.27,"y":0.025},{"x":0.294,"y":0.012},{"x":0.31,"y":0.084},{"x":0.329,"y":0.09},{"x":0.348,"y":0.114},{"x":0.368,"y":0.2},{"x":0.383,"y":0.17},{"x":0.406,"y":0.23},{"x":0.435,"y":0.31},{"x":0.449,"y":0.28},{"x":0.47,"y":0.123},{"x":0.489,"y":0.25},{"x":0.513,"y":0.347},{"x":0.532,"y":0.52},{"x":0.547,"y":0.532},{"x":0.567,"y":0.415},{"x":0.586,"y":0.52},{"x":0.6,"y":0.58},{"x":0.625,"y":0.746},{"x":0.648,"y":0.63},{"x":0.671,"y":0.62},{"x":0.687,"y":0.717},{"x":0.7,"y":0.864},{"x":0.725,"y":0.922},{"x":0.764,"y":0.955},{"x":0.822,"y":0.977},{"x":0.9,"y":0.986},{"x":1,"y":0.994}],
"bn":[{"x":0.006,"y":0.01},{"x":0.039,"y":0.122},{"x":0.064,"y":0.02},{"x":0.093,"y":0.033},{"x":0.118,"y":0.025},{"x":0.157,"y":0.262},{"x":0.196,"y":0.033},{"x":0.223,"y":0.103},{"x":0.25,"y":0.039},{"x":0.291,"y":0.233},{"x":0.32,"y":0.136},{"x":0.348,"y":0.188},{"x":0.375,"y":0.126},{"x":0.425,"y":0.81},{"x":0.468,"y":0.107},{"x":0.51,"y":0.014},{"x":0.54,"y":0.05},{"x":0.573,"y":0.146},{"x":0.604,"y":0.11},{"x":0.637,"y":0.194},{"x":0.676,"y":0.285},{"x":0.709,"y":0.188},{"x":0.763,"y":0.577},{"x":0.808,"y":0.078},{"x":0.86,"y":0.99},{"x":0.909,"y":0.045},{"x":0.95,"y":0.893},{"x":0.992,"y":0.02}],
"bp":[{"x":0.006,"y":0.337},{"x":0.007,"y":0.016},{"x":0.045,"y":0.02},{"x":0.068,"y":0.035},{"x":0.08,"y":0.347},{"x":0.103,"y":0.396},{"x":0.122,"y":0.61},{"x":0.142,"y":0.659},{"x":0.181,"y":0.698},{"x":0.2,"y":0.834},{"x":0.223,"y":0.951},{"x":0.243,"y":0.912},{"x":0.262,"y":0.717},{"x":0.287,"y":0.64},{"x":0.313,"y":0.542},{"x":0.35,"y":0.464},{"x":0.375,"y":0.581},{"x":0.404,"y":0.659},{"x":0.452,"y":0.688},{"x":0.482,"y":0.727},{"x":0.506,"y":0.795},{"x":0.511,"y":0.503},{"x":0.54,"y":0.518},{"x":0.579,"y":0.526},{"x":0.608,"y":0.577},{"x":0.631,"y":0.604},{"x":0.666,"y":0.552},{"x":0.705,"y":0.425},{"x":0.744,"y":0.308},{"x":0.773,"y":0.283},{"x":0.798,"y":0.327},{"x":0.817,"y":0.522},{"x":0.85,"y":0.61},{"x":0.88,"y":0.659},{"x":0.9,"y":0.776},{"x":0.91,"y":0.932},{"x":0.938,"y":0.98},{"x":0.977,"y":0.99},{"x":0.996,"y":0.986}]
},
"spacing":61,
"hconcat":[
 {"title":{"text":"Harmonic trap","anchor":"middle","offset":3,"dx":38},
  "spacing":7,
  "hconcat":[
   {"width":309,"height":415,
    "layer":[
     {"data":{"name":"hr"},"mark":{"type":"line","color":"#ff0000","strokeWidth":1.2,"clip":true},
      "encoding":{"x":{"field":"x","type":"quantitative","scale":{"domain":[0,3],"nice":false},"axis":{"orient":"bottom","values":[0,1,2,3],"format":"d","title":"ω̄","titleFont":"DejaVu Serif","titleFontStyle":"italic","titleFontSize":32,"tickSize":-15,"labelPadding":27,"titlePadding":4,"labelFlush":false}},
                  "y":{"field":"y","type":"quantitative","scale":{"domain":[0,5],"nice":false},"axis":{"orient":"left","values":[0,2,4],"format":"d","title":"ã₀(ω̄) × 10⁻²","titleFont":"DejaVu Serif","titleFontSize":33,"tickSize":-15,"labelPadding":27,"titlePadding":19,"labelFlush":false}}}},
     {"data":{"name":"hb"},"mark":{"type":"line","color":"#0072bd","strokeWidth":3,"clip":true},
      "encoding":{"x":{"field":"x","type":"quantitative","scale":{"domain":[0,3],"nice":false},"axis":{"orient":"top","values":[1,2],"labels":false,"title":null,"tickSize":-15}},
                  "y":{"field":"y","type":"quantitative","scale":{"domain":[0,5],"nice":false},"axis":{"orient":"right","values":[2,4],"labels":false,"title":null,"tickSize":-15}}}}
    ],
    "resolve":{"axis":{"x":"independent","y":"independent"}}
   },
   {"spacing":29,
    "vconcat":[
     {"width":172,"height":171,"data":{"name":"hn"},"mark":{"type":"line","color":"#0072bd","strokeWidth":2,"interpolate":"monotone","clip":true},
      "encoding":{"x":{"field":"x","type":"quantitative","scale":{"domain":[0,1],"nice":false},"axis":{"title":"x","titleFontStyle":"italic","labels":false,"ticks":false,"titlePadding":8}},
                  "y":{"field":"y","type":"quantitative","scale":{"domain":[0,1],"nice":false},"axis":{"title":"n","titleFontStyle":"italic","labels":false,"ticks":false,"titlePadding":6}}}},
     {"width":172,"height":171,"data":{"name":"hp"},"mark":{"type":"line","color":"#0072bd","strokeWidth":2,"interpolate":"monotone","clip":true},
      "encoding":{"x":{"field":"x","type":"quantitative","scale":{"domain":[0,1],"nice":false},"axis":{"title":"x","titleFontStyle":"italic","labels":false,"ticks":false,"titlePadding":8}},
                  "y":{"field":"y","type":"quantitative","scale":{"domain":[0,1],"nice":false},"axis":{"title":"Phase","labels":false,"ticks":false,"titlePadding":8}}}}
    ]}
  ]},
 {"title":{"text":"Box trap","anchor":"middle","offset":3,"dx":66},
  "spacing":7,
  "hconcat":[
   {"width":309,"height":415,
    "layer":[
     {"data":{"name":"br"},"mark":{"type":"line","color":"#ff0000","strokeWidth":1.2,"clip":true},
      "encoding":{"x":{"field":"x","type":"quantitative","scale":{"domain":[0,3],"nice":false},"axis":{"orient":"bottom","values":[0,1,2,3],"format":"d","title":"ω̄","titleFont":"DejaVu Serif","titleFontStyle":"italic","titleFontSize":32,"tickSize":-15,"labelPadding":27,"titlePadding":4,"labelFlush":false}},
                  "y":{"field":"y","type":"quantitative","scale":{"domain":[0,5],"nice":false},"axis":{"orient":"left","values":[0,2,4],"format":"d","title":"ã₀(ω̄) × 10⁻²","titleFont":"DejaVu Serif","titleFontSize":33,"tickSize":-15,"labelPadding":27,"titlePadding":19,"labelFlush":false}}}},
     {"data":{"name":"bb"},"mark":{"type":"line","color":"#0072bd","strokeWidth":3,"clip":true},
      "encoding":{"x":{"field":"x","type":"quantitative","scale":{"domain":[0,3],"nice":false},"axis":{"orient":"top","values":[1,2],"labels":false,"title":null,"tickSize":-15}},
                  "y":{"field":"y","type":"quantitative","scale":{"domain":[0,5],"nice":false},"axis":{"orient":"right","values":[2,4],"labels":false,"title":null,"tickSize":-15}}}}
    ],
    "resolve":{"axis":{"x":"independent","y":"independent"}}
   },
   {"spacing":29,
    "vconcat":[
     {"width":172,"height":171,"data":{"name":"bn"},"mark":{"type":"line","color":"#0072bd","strokeWidth":2,"interpolate":"monotone","clip":true},
      "encoding":{"x":{"field":"x","type":"quantitative","scale":{"domain":[0,1],"nice":false},"axis":{"title":"x","titleFontStyle":"italic","labels":false,"ticks":false,"titlePadding":8}},
                  "y":{"field":"y","type":"quantitative","scale":{"domain":[0,1],"nice":false},"axis":{"title":"n","titleFontStyle":"italic","labels":false,"ticks":false,"titlePadding":6}}}},
     {"width":172,"height":171,"data":{"name":"bp"},"mark":{"type":"line","color":"#0072bd","strokeWidth":2,"interpolate":"monotone","clip":true},
      "encoding":{"x":{"field":"x","type":"quantitative","scale":{"domain":[0,1],"nice":false},"axis":{"title":"x","titleFontStyle":"italic","labels":false,"ticks":false,"titlePadding":8}},
                  "y":{"field":"y","type":"quantitative","scale":{"domain":[0,1],"nice":false},"axis":{"title":"Phase","labels":false,"ticks":false,"titlePadding":8}}}}
    ]}
  ]}
]
}
